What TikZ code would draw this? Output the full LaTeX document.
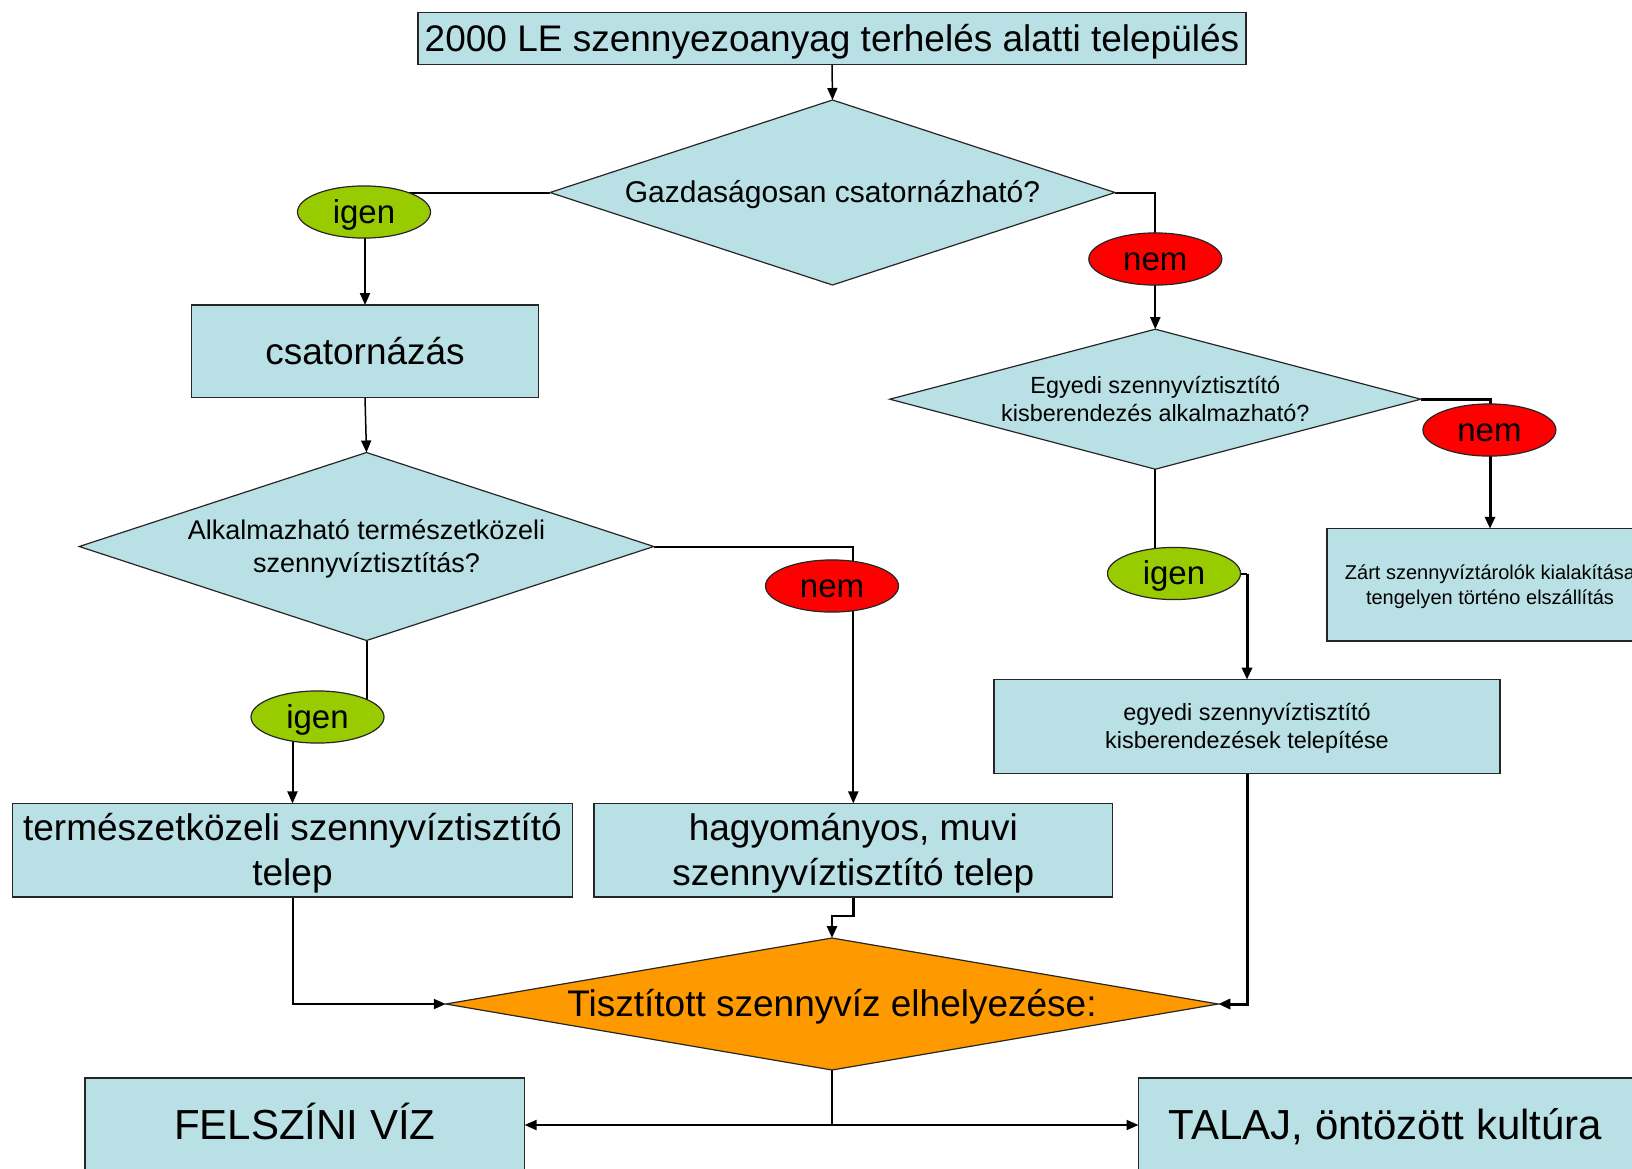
\documentclass[tikz,border=0pt]{standalone}
\usepackage{fontspec}
\setmainfont{Liberation Sans}
\usetikzlibrary{shapes.geometric,arrows.meta,calc}
\definecolor{paleblue}{RGB}{185,224,228}
\definecolor{yesgreen}{RGB}{153,204,0}
\definecolor{nored}{RGB}{255,0,0}
\definecolor{outorange}{RGB}{255,153,0}
\newcommand\fsz[2]{\fontsize{#1}{#2}\selectfont}
% line strut with the ascent and descent of the font, so every line is centred on its full line box
\newcommand\ls{\rule[-0.212em]{0pt}{1.117em}}
\pgfdeclarelayer{background}
\pgfsetlayers{background,main}
\begin{document}
\begin{tikzpicture}[x=1pt,y=-1pt,
  box/.style={rectangle, draw=black!85, line width=1.2pt, fill=paleblue,
    inner sep=0pt, outer sep=0pt, align=center},
  decision/.style={diamond, draw=black!85, line width=1.2pt, fill=paleblue,
    inner sep=0pt, outer sep=0pt},
  answer/.style={ellipse, draw=black!85, line width=1.2pt, inner sep=0pt,
    outer sep=0pt, minimum width=133pt, minimum height=52pt,
    font=\fsz{33}{38}},
  yes/.style={answer, fill=yesgreen},
  no/.style={answer, fill=nored},
  link/.style={line width=2pt, draw=black},
  boldlink/.style={line width=3pt, draw=black},
  tip/.style={-{Triangle[length=12pt,width=10pt]}},
]
\useasboundingbox (0,0) rectangle (1632,1168);

% starting point
\node[box, minimum width=828pt, minimum height=52pt, font=\fsz{37}{42}]
  (top) at (832,38.5) {\ls 2000 LE szennyezoanyag terhelés alatti település};

% first decision: sewer network or not
\node[decision, minimum width=565pt, minimum height=185pt,
  label={[font=\fsz{30}{34}]center:\ls Gazdaságosan csatornázható?}]
  (d1) at (832.5,192.5) {};
\node[yes] (igen1) at (364,212) {\ls igen};
\node[no]  (nem1)  at (1155.3,259) {\ls nem};

% left branch
\node[box, minimum width=347.5pt, minimum height=92.6pt, font=\fsz{37}{42}]
  (csat) at (365,351.3) {\ls csatornázás};
\node[decision, minimum width=574.5pt, minimum height=188pt,
  label={[font=\fsz{27}{33.3}, align=center]center:{\ls Alkalmazható természetközeli\\\ls szennyvíztisztítás?}}]
  (d2) at (366.5,546.5) {};
\node[no]  (nem2)  at (832,586) {\ls nem};
\node[yes] (igen2) at (317.5,717) {\ls igen};
\node[box, minimum width=560pt, minimum height=93.5pt, font=\fsz{37}{45}]
  (term) at (292.5,850.2) {\ls természetközeli szennyvíztisztító\\\ls telep};
\node[box, minimum width=518.6pt, minimum height=93.5pt, font=\fsz{37}{45}]
  (hagy) at (853.3,850.2) {\ls hagyományos, muvi\\\ls szennyvíztisztító telep};

% right branch
\node[decision, minimum width=531pt, minimum height=140pt,
  label={[font=\fsz{23.4}{28}, align=center]center:{\ls Egyedi szennyvíztisztító\\\ls kisberendezés alkalmazható?}}]
  (d3) at (1155.3,399.2) {};
\node[no]  (nem3)  at (1489.4,430) {\ls nem};
\node[yes] (igen3) at (1174,573.5) {\ls igen};
\node[box, minimum width=326pt, minimum height=112.3pt, font=\fsz{20}{25}]
  (zart) at (1490,584.9) {\ls Zárt szennyvíztárolók kialakítása\\\ls tengelyen történo elszállítás};
\node[box, minimum width=506pt, minimum height=93.7pt, font=\fsz{23.4}{28}]
  (egy) at (1247,726.5) {\ls egyedi szennyvíztisztító\\\ls kisberendezések telepítése};

% disposal of the treated water
\node[decision, fill=outorange, minimum width=772.5pt, minimum height=132pt,
  label={[font=\fsz{37}{42}]center:\ls Tisztított szennyvíz elhelyezése:}]
  (out) at (832,1004) {};
\node[box, minimum width=439.6pt, minimum height=94pt, font=\fsz{42}{47}]
  (felsz) at (304.8,1125) {\ls FELSZÍNI VÍZ};
\node[box, minimum width=494pt, minimum height=94pt, font=\fsz{42}{47}]
  (talaj) at (1385.5,1125) {\ls TALAJ, öntözött kultúra};

% connectors, kept behind the shapes
\begin{pgfonlayer}{background}
  \draw[link, line width=1.5pt, tip] (top.south) -- (d1.north);
  \draw[link, tip] (d1.west) -| (csat.north);
  \draw[link, tip] (d1.east) -| (d3.north);
  \draw[link, line width=1.5pt, tip] (csat.south) -- (d2.north);
  \draw[link, tip] (d2.east) -| (hagy.north);
  \draw[link, tip] (d2.south) |- (term.north |- igen2.center) -- (term.north);
  \draw[boldlink, tip] (d3.east) -| (zart.north);
  \draw[link] (d3.south) |- (egy.north |- igen3.center);
  \draw[boldlink, tip] (egy.north |- igen3.center) -- (egy.north);
  \draw[link, tip] (term.south) |- (out.west);
  \draw[boldlink, tip] (egy.south) |- (out.east);
  \draw[link, line width=2.5pt, tip] (hagy.south) -- ++(0,19) -| (out.north);
  \draw[link, tip] (out.south) |- (felsz.east);
  \draw[link, tip] (out.south) |- (talaj.west);
\end{pgfonlayer}
\end{tikzpicture}
\end{document}
